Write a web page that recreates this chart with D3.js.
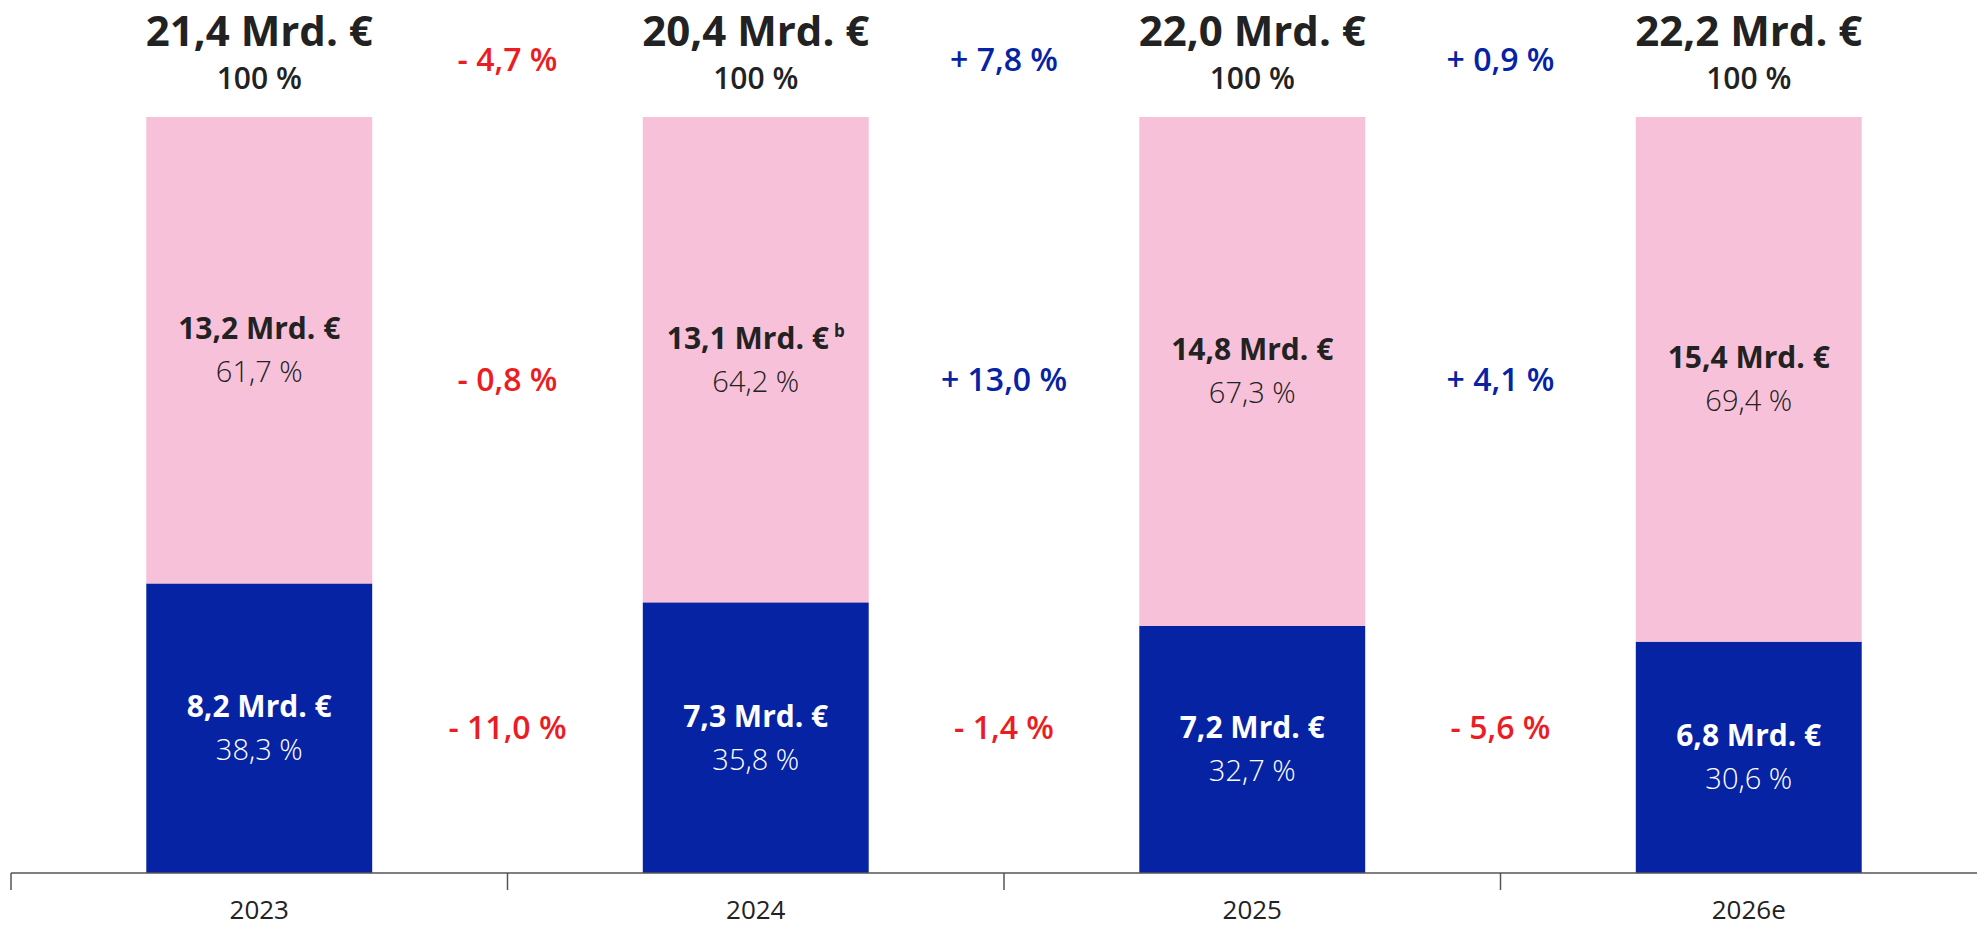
<!DOCTYPE html>
<html>
<head>
<meta charset="utf-8">
<script src="https://cdn.jsdelivr.net/npm/d3@7"></script>
<style>
  html, body { margin: 0; padding: 0; background: #fff; }
  svg { display: block; font-family: "Open Sans", "Noto Sans", sans-serif; }
</style>
</head>
<body>
<svg id="chart" width="1977" height="926"></svg>
<script>
// ── Daten ──────────────────────────────────────────
const years       = ['2023', '2024', '2025', '2026e'];
const totals      = [21.4, 20.4, 22.0, 22.2];
const pinkValues  = [13.2, 13.1, 14.8, 15.4];
const pinkShares  = [61.7, 64.2, 67.3, 69.4];
const pinkNotes   = ['', 'b', '', ''];
const blueValues  = [8.2, 7.3, 7.2, 6.8];
const blueShares  = [38.3, 35.8, 32.7, 30.6];
// Veränderung zum Vorjahr (zwischen den Säulen)
const totalChange = [-4.7, 7.8, 0.9];
const pinkChange  = [-0.8, 13.0, 4.1];
const blueChange  = [-11.0, -1.4, -5.6];

// ── Layout ─────────────────────────────────────────
const W = 1977, H = 926;
const AXIS_Y = 873, TOP_Y = 117;
const COL = { pink: '#f7c1d9', blue: '#0623a3', red: '#ec1c24', text: '#222222', axis: '#555555' };

const fmt = v => v.toFixed(1).replace('.', ',');
const fmtChange = v => (v < 0 ? '- ' : '+ ') + fmt(Math.abs(v)) + ' %';

const svg = d3.select('#chart');

const x = d3.scaleBand().domain(years).range([11, 1997]).paddingInner(0.545).paddingOuter(0.2725);
const y = d3.scaleLinear().domain([0, 100]).range([AXIS_Y, TOP_Y]);

const rows = years.map((yr, i) => ({
  yr, total: totals[i],
  pinkV: pinkValues[i], pinkS: pinkShares[i], note: pinkNotes[i],
  blueV: blueValues[i], blueS: blueShares[i]
}));

// Säulen: blau unten, rosa oben
svg.selectAll('.bar-blue').data(rows).enter().append('rect')
  .attr('x', d => x(d.yr)).attr('width', x.bandwidth())
  .attr('y', d => y(d.blueS)).attr('height', d => y(0) - y(d.blueS))
  .attr('fill', COL.blue);
svg.selectAll('.bar-pink').data(rows).enter().append('rect')
  .attr('x', d => x(d.yr)).attr('width', x.bandwidth())
  .attr('y', d => y(100)).attr('height', d => y(d.blueS) - y(100))
  .attr('fill', COL.pink);

// Beschriftungen in den Segmenten
function segLabel(d, mid, val, share, color, note) {
  const cx = x(d.yr) + x.bandwidth() / 2;
  const t = svg.append('text').attr('x', cx).attr('y', mid - 11)
    .attr('text-anchor', 'middle').attr('fill', color)
    .attr('font-size', 30).attr('font-weight', 700);
  t.append('tspan').text(fmt(val) + ' Mrd. €');
  if (note) t.append('tspan').attr('dx', 5).attr('dy', -12).attr('font-size', 17).text(note);
  svg.append('text').attr('x', cx).attr('y', mid + 32)
    .attr('text-anchor', 'middle').attr('fill', color)
    .attr('font-size', 29).attr('font-weight', 300)
    .text(fmt(share) + ' %');
}
rows.forEach(d => {
  segLabel(d, (y(100) + y(d.blueS)) / 2, d.pinkV, d.pinkS, COL.text, d.note);
  segLabel(d, (y(d.blueS) + y(0)) / 2, d.blueV, d.blueS, '#ffffff', '');
});

// Summen oben
rows.forEach(d => {
  const cx = x(d.yr) + x.bandwidth() / 2;
  svg.append('text').attr('x', cx).attr('y', 46).attr('text-anchor', 'middle')
    .attr('fill', COL.text).attr('font-size', 42).attr('font-weight', 700)
    .text(fmt(d.total) + ' Mrd. €');
  svg.append('text').attr('x', cx).attr('y', 89).attr('text-anchor', 'middle')
    .attr('fill', COL.text).attr('font-size', 30).attr('font-weight', 600)
    .text('100 %');
});

// Veränderungsraten zwischen den Säulen
const boundary = i => x.range()[0] + x.step() * (i + 1);
const changeRows = [
  { vals: totalChange, cy: 60 },
  { vals: pinkChange,  cy: 380 },
  { vals: blueChange,  cy: 728 }
];
changeRows.forEach(r => {
  r.vals.forEach((v, i) => {
    svg.append('text').attr('x', boundary(i)).attr('y', r.cy + 11)
      .attr('text-anchor', 'middle')
      .attr('fill', v < 0 ? COL.red : COL.blue)
      .attr('font-size', 32).attr('font-weight', 600)
      .text(fmtChange(v));
  });
});

// X-Achse
svg.append('line').attr('x1', x.range()[0]).attr('x2', W)
  .attr('y1', AXIS_Y).attr('y2', AXIS_Y)
  .attr('stroke', COL.axis).attr('stroke-width', 1.5);
d3.range(years.length).forEach(i => {
  const tx = x.range()[0] + x.step() * i;
  svg.append('line').attr('x1', tx).attr('x2', tx)
    .attr('y1', AXIS_Y).attr('y2', AXIS_Y + 17)
    .attr('stroke', COL.axis).attr('stroke-width', 1.5);
});
svg.selectAll('.yr').data(years).enter().append('text')
  .attr('x', d => x(d) + x.bandwidth() / 2).attr('y', 919)
  .attr('text-anchor', 'middle').attr('fill', COL.text)
  .attr('font-size', 26).attr('font-weight', 400)
  .text(d => d);
</script>
</body>
</html>
